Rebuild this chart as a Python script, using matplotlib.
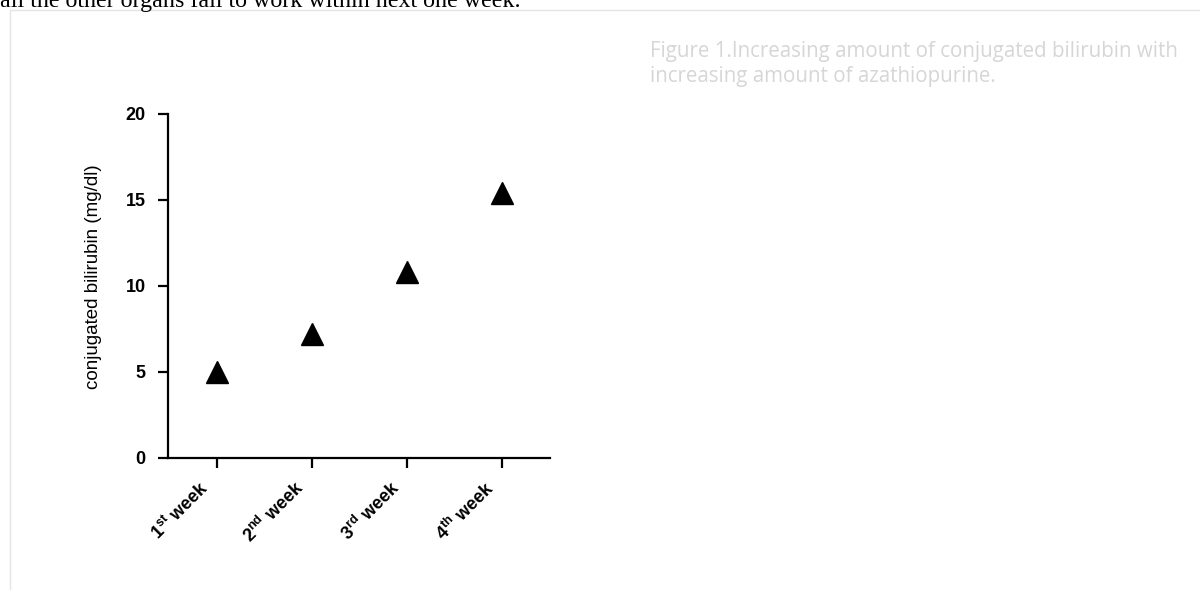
import matplotlib
matplotlib.use("Agg")
import matplotlib.pyplot as plt
from matplotlib.patches import Rectangle
from matplotlib.transforms import ScaledTranslation

weeks = [1, 2, 3, 4]
week_labels = [r"$\mathregular{1^{st}}$ week", r"$\mathregular{2^{nd}}$ week",
               r"$\mathregular{3^{rd}}$ week", r"$\mathregular{4^{th}}$ week"]
bilirubin = [5.0, 7.2, 10.8, 15.4]
yticks = [0, 5, 10, 15, 20]

fig = plt.figure(figsize=(12, 5.9), dpi=100)

# page frame and surrounding text
fig.patches.append(Rectangle((10 / 1200, -0.01), 1.0, 1 - 10 / 590 + 0.01,
                             transform=fig.transFigure, fill=False,
                             edgecolor='#e4e4e4', linewidth=1))
fig.text(0.0, 1 - 7 / 590, "all the other organs fail to work within next one week.",
         family='Liberation Serif', fontsize=17.3, va='baseline', ha='left')
fig.text(650 / 1200, 1 - 57 / 590, "Figure 1.Increasing amount of conjugated bilirubin with",
         family='Open Sans', fontsize=14.8, color='#d6d6d6', va='baseline', ha='left')
fig.text(650 / 1200, 1 - 82 / 590, "increasing amount of azathiopurine.",
         family='Open Sans', fontsize=14.8, color='#d6d6d6', va='baseline', ha='left')

ax = fig.add_axes([168 / 1200, 1 - 458 / 590, (550 - 168) / 1200, (458 - 114) / 590])
ax.plot(weeks, bilirubin, linestyle='none', marker='^', markersize=16, color='black')

ax.set_xlim(0.485, 4.5)
ax.set_ylim(0, 20)
ax.set_yticks(yticks)
ax.set_yticklabels([str(v) for v in yticks], family='Liberation Sans', fontweight='bold', fontsize=13)
ax.set_xticks(weeks)
ax.set_xticklabels(week_labels, rotation=45, ha='right', va='top', rotation_mode='anchor',
                   family='Liberation Sans', fontweight='bold', fontsize=13)
ax.set_ylabel("conjugated bilirubin (mg/dl)", family='Liberation Sans', fontsize=13.5)
ax.yaxis.set_label_coords(-0.173, 0.526)

for s in ['top', 'right']:
    ax.spines[s].set_visible(False)
for s in ['left', 'bottom']:
    ax.spines[s].set_linewidth(1.6)
ax.tick_params(direction='out', length=7, width=1.6)
ax.tick_params(axis='x', pad=6)
ax.tick_params(axis='y', pad=9)

# nudge the rotated week labels left, as in the original
shift = ScaledTranslation(-18 / 100, -2 / 100, fig.dpi_scale_trans)
for tick in ax.xaxis.get_major_ticks():
    tick.label1.set_transform(tick.label1.get_transform() + shift)

plt.savefig("out.png", dpi=100)
plt.close()
